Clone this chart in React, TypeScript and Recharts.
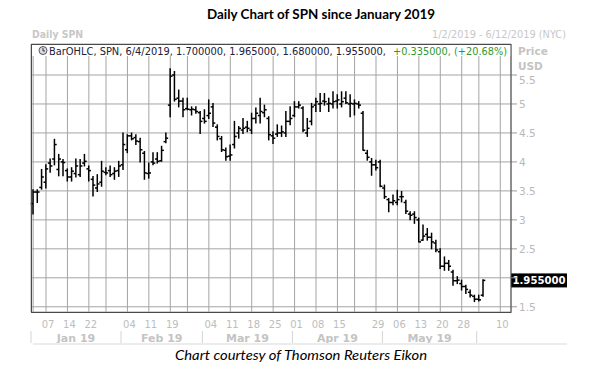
import React from 'react';
import { ComposedChart, Bar, XAxis, YAxis, CartesianGrid, ReferenceLine } from 'recharts';

// trading days per month (Jan 2 .. Jun 12 2019)
const JAN = [2, 3, 4, 7, 8, 9, 10, 11, 14, 15, 16, 17, 18, 22, 23, 24, 25, 28, 29, 30, 31];
const FEB = [1, 4, 5, 6, 7, 8, 11, 12, 13, 14, 15, 19, 20, 21, 22, 25, 26, 27, 28];
const MAR = [1, 4, 5, 6, 7, 8, 11, 12, 13, 14, 15, 18, 19, 20, 21, 22, 25, 26, 27, 28, 29];
const APR = [1, 2, 3, 4, 5, 8, 9, 10, 11, 12, 15, 16, 17, 18, 22, 23, 24, 25, 26, 29, 30];
const MAY = [1, 2, 3, 6, 7, 8, 9, 10, 13, 14, 15, 16, 17, 20, 21, 22, 23, 24, 28, 29, 30, 31];
const JUN = [3, 4, 5, 6, 7, 10, 11, 12];
const MONTH_DAYS = [JAN, FEB, MAR, APR, MAY, JUN];
const MONTH_LABELS = ['Jan 19', 'Feb 19', 'Mar 19', 'Apr 19', 'May 19', ''];

const OPEN = [
  3.28, 3.48, 3.56, 3.65, 3.98, 4.05, 3.87, 4.0, 3.85, 3.74,
  3.8, 3.78, 3.98, 3.88, 3.7, 3.55, 3.65, 3.82, 3.85, 3.8,
  3.85, 3.95, 4.21, 4.45, 4.42, 4.35, 4.15, 3.8, 4.0, 4.05,
  4.02, 4.35, 4.98, 5.5, 5.1, 5.05, 4.92, 4.9, 4.9, 4.85,
  4.75, 4.8, 4.95, 4.6, 4.4, 4.2, 4.1, 4.3, 4.5, 4.55,
  4.6, 4.55, 4.75, 4.8, 4.85, 4.75, 4.45, 4.48, 4.5, 4.5,
  4.7, 4.8, 4.95, 4.93, 4.5, 4.7, 4.98, 5.0, 5.05, 5.0,
  5.0, 5.05, 5.0, 5.1, 5.0, 5.0, 5.0, 4.84, 4.15, 4.0,
  3.95, 4.0, 3.55, 3.35, 3.3, 3.3, 3.4, 3.3, 3.1, 3.1,
  3.0, 2.65, 2.75, 2.7, 2.6, 2.45, 2.2, 2.25, 2.1, 1.95,
  1.9, 1.85, 1.75, 1.68, 1.63, 1.7,
];
const HIGH = [
  3.52, 3.52, 3.87, 3.95, 4.05, 4.39, 4.13, 4.04, 3.88, 3.9,
  4.05, 4.04, 4.13, 3.93, 3.75, 3.78, 4.01, 3.9, 3.93, 3.9,
  4.01, 4.5, 4.47, 4.5, 4.47, 4.41, 4.18, 3.98, 4.16, 4.16,
  4.27, 4.5, 5.61, 5.56, 5.24, 5.1, 5.1, 4.95, 4.95, 4.87,
  4.9, 5.07, 5.01, 4.64, 4.44, 4.24, 4.29, 4.7, 4.61, 4.75,
  4.7, 4.84, 4.93, 5.1, 4.98, 4.78, 4.52, 4.64, 4.62, 4.87,
  4.95, 5.04, 5.04, 4.95, 4.75, 5.01, 5.1, 5.18, 5.18, 5.1,
  5.21, 5.16, 5.21, 5.21, 5.16, 5.07, 5.04, 4.87, 4.2, 4.06,
  4.03, 4.03, 3.6, 3.37, 3.43, 3.51, 3.49, 3.34, 3.14, 3.14,
  3.03, 2.91, 2.85, 2.77, 2.65, 2.5, 2.36, 2.3, 2.13, 2.02,
  1.96, 1.87, 1.79, 1.7, 1.7, 1.965,
];
const LOW = [
  3.1, 3.3, 3.53, 3.55, 3.82, 3.95, 3.76, 3.76, 3.67, 3.67,
  3.74, 3.75, 3.93, 3.67, 3.41, 3.49, 3.58, 3.78, 3.75, 3.7,
  3.75, 3.87, 4.16, 4.38, 4.3, 4.0, 3.7, 3.72, 3.95, 3.98,
  4.01, 4.33, 4.78, 5.05, 4.95, 4.78, 4.9, 4.81, 4.84, 4.49,
  4.67, 4.75, 4.61, 4.38, 4.18, 4.03, 4.03, 4.24, 4.41, 4.49,
  4.52, 4.49, 4.67, 4.67, 4.78, 4.38, 4.32, 4.44, 4.44, 4.44,
  4.64, 4.78, 4.93, 4.52, 4.44, 4.64, 4.87, 4.87, 4.98, 4.87,
  4.93, 4.93, 4.95, 5.01, 4.78, 4.81, 4.93, 4.2, 4.03, 3.77,
  3.86, 3.57, 3.37, 3.14, 3.26, 3.26, 3.31, 3.11, 3.0, 2.94,
  2.62, 2.65, 2.65, 2.5, 2.45, 2.16, 2.13, 2.13, 1.87, 1.9,
  1.79, 1.73, 1.67, 1.59, 1.6, 1.68,
];
const CLOSE = [
  3.48, 3.48, 3.74, 3.88, 3.93, 4.3, 4.05, 3.99, 3.74, 3.84,
  3.93, 3.93, 4.01, 3.85, 3.6, 3.62, 3.84, 3.81, 3.78, 3.84,
  3.93, 4.3, 4.45, 4.4, 4.36, 4.21, 3.81, 3.81, 3.98, 4.01,
  4.2, 4.41, 5.48, 5.08, 5.05, 4.9, 4.91, 4.91, 4.87, 4.7,
  4.7, 4.84, 4.67, 4.44, 4.21, 4.09, 4.12, 4.44, 4.58, 4.58,
  4.58, 4.75, 4.84, 4.87, 4.9, 4.47, 4.41, 4.5, 4.52, 4.7,
  4.75, 4.95, 4.98, 4.55, 4.58, 4.95, 5.04, 5.01, 5.04, 5.01,
  5.04, 5.07, 5.04, 5.02, 5.01, 5.01, 4.98, 4.2, 4.08, 3.95,
  3.9, 3.58, 3.4, 3.3, 3.33, 3.35, 3.4, 3.15, 3.08, 3.04,
  2.62, 2.72, 2.7, 2.62, 2.48, 2.2, 2.25, 2.2, 1.95, 1.96,
  1.85, 1.8, 1.7, 1.63, 1.62, 1.955,
];

const WEEK_TICKS = [
  '01-02', '01-07', '01-14', '01-22', '01-28', '02-04', '02-11', '02-19', '02-25',
  '03-04', '03-11', '03-18', '03-25', '04-01', '04-08', '04-15', '04-22', '04-29',
  '05-06', '05-13', '05-20', '05-28', '06-03', '06-10',
];
const UNLABELED = ['01-02', '01-28', '02-25', '04-22', '06-03'];
const MONTH_STARTS = ['01-02', '02-01', '03-01', '04-01', '05-01', '06-03'];
const Y_TICKS = [1.5, 2, 2.5, 3, 3.5, 4, 4.5, 5, 5.5];
const LAST = 1.955;

const pad = (n: number) => String(n).padStart(2, '0');
const KEYS = MONTH_DAYS.flatMap((days, m) => days.map((d) => `${pad(m + 1)}-${pad(d)}`));

const data = KEYS.map((key, i) => ({
  key,
  range: i < CLOSE.length ? [LOW[i], HIGH[i]] : undefined,
  open: OPEN[i],
  high: HIGH[i],
  low: LOW[i],
  close: CLOSE[i],
}));

const PLOT_LEFT = 31;
const PLOT_RIGHT = 511;
const BW = (PLOT_RIGHT - PLOT_LEFT) / KEYS.length;
const AXIS_GRAY = '#bdbdbd';

const OhlcShape = (props: any) => {
  const { x, y, width, height, payload } = props;
  if (!payload || payload.high == null) return <g />;
  const top = Math.min(y, y + height);
  const bot = Math.max(y, y + height);
  const k = payload.high === payload.low ? 0 : (bot - top) / (payload.high - payload.low);
  const cx = x + width / 2;
  const yo = top + (payload.high - payload.open) * k;
  const yc = top + (payload.high - payload.close) * k;
  return (
    <g stroke="#000" strokeWidth={1.5}>
      <line x1={cx} x2={cx} y1={top - 0.5} y2={bot + 0.5} />
      <line x1={cx - 2.3} x2={cx} y1={yo} y2={yo} />
      <line x1={cx} x2={cx + 2.3} y1={yc} y2={yc} />
    </g>
  );
};

const DateTick = (props: any) => {
  const { x, payload } = props;
  if (UNLABELED.includes(payload.value)) return <g />;
  return (
    <text x={x + 2} y={328} textAnchor="middle" fontSize={10} fill={AXIS_GRAY} fontFamily="DejaVu Sans">
      {payload.value.slice(3)}
    </text>
  );
};

const MonthTick = (props: any) => {
  const { x, payload } = props;
  const mi = MONTH_STARTS.indexOf(payload.value);
  const left = x - BW / 2;
  const mid = left + (MONTH_DAYS[mi].length * BW) / 2;
  return (
    <g>
      <line x1={left} x2={left} y1={331} y2={343} stroke="#d4d4d4" />
      <text x={mid} y={342} textAnchor="middle" fontSize={11} fontWeight="bold" fill="#c4c4c4" fontFamily="DejaVu Sans">
        {MONTH_LABELS[mi]}
      </text>
    </g>
  );
};

// the "2" label sits under the last-price box in the original, so it is not drawn
const PriceTick = (props: any) => {
  const { x, y, payload } = props;
  if (payload.value === 2) return <g />;
  const shift = payload.value === 5.5 ? 5 : 0;
  return (
    <text x={x} y={y + shift + 4} fontSize={10.5} fill="#b9b9b9" fontFamily="DejaVu Sans">
      {payload.value}
    </text>
  );
};

const LastLabel = (props: any) => {
  const vb = props.viewBox || {};
  const x = vb.x + vb.width;
  const y = vb.y;
  return (
    <g>
      <rect x={x} y={y - 7} width={56} height={14} fill="#000" />
      <text x={x + 28} y={y + 4} textAnchor="middle" fill="#fff" fontSize={11} fontWeight="bold" fontFamily="DejaVu Sans" textLength={53} lengthAdjust="spacingAndGlyphs">
        1.955000
      </text>
    </g>
  );
};

export default function App() {
  return (
    <div style={{ position: 'absolute', left: 0, top: 0, width: 600, height: 377, background: '#fff' }}>
      <ComposedChart
        width={600}
        height={377}
        data={data}
        margin={{ top: 44, right: 0, bottom: 0, left: PLOT_LEFT }}
        barCategoryGap={0}
        barGap={0}
      >
        <CartesianGrid stroke="#a4a4a4" />
        <XAxis dataKey="key" ticks={WEEK_TICKS} interval={0} height={30} axisLine={false} tickLine={false} tick={<DateTick />} />
        <XAxis xAxisId="m" dataKey="key" ticks={MONTH_STARTS} interval={0} height={35} axisLine={false} tickLine={false} tick={<MonthTick />} />
        <YAxis
          orientation="right"
          domain={[1.41, 6.035]}
          ticks={Y_TICKS}
          width={600 - PLOT_RIGHT}
          axisLine={false}
          tickSize={6}
          tickLine={{ stroke: '#9a9a9a' }}
          tick={<PriceTick />}
          allowDataOverflow
        />
        <Bar dataKey="range" shape={<OhlcShape />} isAnimationActive={false} />
        <ReferenceLine y={LAST} stroke="none" label={<LastLabel />} />
      </ComposedChart>
      <svg width={600} height={377} style={{ position: 'absolute', left: 0, top: 0, pointerEvents: 'none' }}>
        <text x={207} y={19} fontFamily="Lato" fontWeight="bold" fontSize={14} fill="#000" textLength={228} lengthAdjust="spacingAndGlyphs">
          Daily Chart of SPN since January 2019
        </text>
        <text x={32} y={38} fontFamily="DejaVu Sans" fontWeight="bold" fontSize={10.5} fill="#c8c8c8" textLength={51} lengthAdjust="spacingAndGlyphs">
          Daily SPN
        </text>
        <text x={432} y={38} fontFamily="DejaVu Sans" fontSize={10.5} fill="#c8c8c8" textLength={134} lengthAdjust="spacingAndGlyphs">
          1/2/2019 - 6/12/2019 (NYC)
        </text>
        <rect x={32} y={44.5} width={479} height={11.5} fill="#fff" />
        <circle cx={43} cy={50.5} r={4} fill="#d9dde8" stroke="#555" strokeWidth={1} />
        <line x1={43} x2={43} y1={48} y2={51} stroke="#333" strokeWidth={1} />
        <line x1={43} x2={45} y1={51} y2={51} stroke="#333" strokeWidth={1} />
        <text x={49} y={54.5} fontFamily="DejaVu Sans" fontSize={10} fill="#20203a" textLength={337} lengthAdjust="spacingAndGlyphs">
          BarOHLC, SPN, 6/4/2019, 1.700000, 1.965000, 1.680000, 1.955000,
        </text>
        <text x={393} y={54.5} fontFamily="DejaVu Sans" fontSize={10} fill="#2e9a2e" textLength={114} lengthAdjust="spacingAndGlyphs">
          +0.335000, (+20.68%)
        </text>
        <text x={518} y={54.5} fontFamily="DejaVu Sans" fontWeight="bold" fontSize={10.5} fill="#c4c4c4">
          Price
        </text>
        <text x={518} y={69.5} fontFamily="DejaVu Sans" fontWeight="bold" fontSize={10.5} fill="#c4c4c4">
          USD
        </text>
        <rect x={31.5} y={44.5} width={479.5} height={268} fill="none" stroke="#4a4a4a" strokeWidth={1} />
        <line x1={33} x2={567} y1={344} y2={344} stroke="#ececec" strokeWidth={2} />
        <text x={175} y={360} fontFamily="Lato" fontStyle="italic" fontSize={14} fill="#000" textLength={252} lengthAdjust="spacingAndGlyphs">
          Chart courtesy of Thomson Reuters Eikon
        </text>
      </svg>
    </div>
  );
}
